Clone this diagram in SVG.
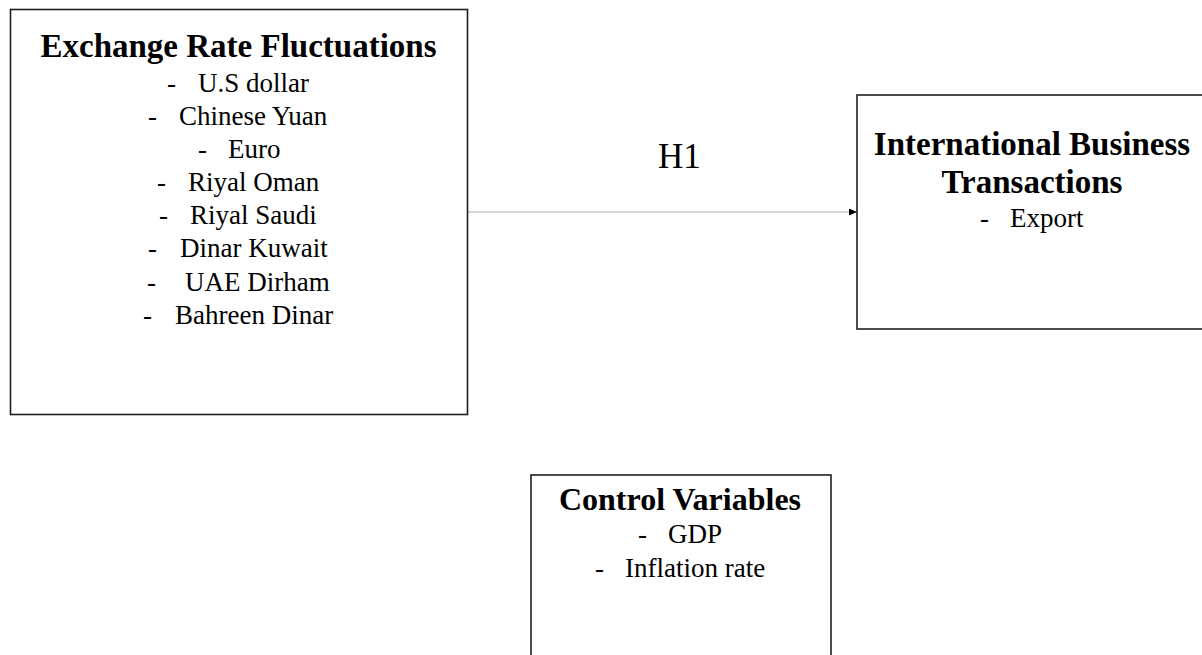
<svg xmlns="http://www.w3.org/2000/svg" width="1202" height="655" viewBox="0 0 1202 655">
<style>
.box{fill:#fff;stroke:#1e1e1e;stroke-width:1.6}
.t{font-family:"Liberation Serif","Times New Roman",serif;font-weight:bold;font-size:33px;fill:#000;text-anchor:middle}
.i{font-family:"Liberation Serif","Times New Roman",serif;font-size:27px;fill:#000}
.h{font-family:"Liberation Serif","Times New Roman",serif;font-size:35px;fill:#000}
.conn{stroke:#c8c8c8;stroke-width:1.5;fill:none}
</style>
<defs>
<marker id="arr" markerWidth="8" markerHeight="8" refX="8" refY="3.5" orient="auto" markerUnits="userSpaceOnUse">
<path d="M0,0 L8,3.5 L0,7 Z" fill="#000"/>
</marker>
</defs>
<rect width="1202" height="655" fill="#fff"/>
<g id="connectors">
<line class="conn" x1="468" y1="212" x2="857" y2="212" marker-end="url(#arr)"/>
<text class="h" x="658" y="168">H1</text>
</g>
<g id="node-exchange">
<rect class="box" x="10.5" y="9.5" width="457" height="405"/>
<text class="t" x="238.5" y="57">Exchange Rate Fluctuations</text>
<text class="i" x="167" y="92">-</text><text class="i" x="198" y="92">U.S dollar</text>
<text class="i" x="148" y="125">-</text><text class="i" x="179" y="125">Chinese Yuan</text>
<text class="i" x="198" y="158">-</text><text class="i" x="228" y="158">Euro</text>
<text class="i" x="157" y="191">-</text><text class="i" x="188" y="191">Riyal Oman</text>
<text class="i" x="159" y="224">-</text><text class="i" x="190" y="224">Riyal Saudi</text>
<text class="i" x="148" y="257">-</text><text class="i" x="180" y="257">Dinar Kuwait</text>
<text class="i" x="147" y="291">-</text><text class="i" x="185" y="291">UAE Dirham</text>
<text class="i" x="143" y="324">-</text><text class="i" x="175" y="324">Bahreen Dinar</text>
</g>
<g id="node-international">
<rect class="box" x="857" y="95" width="350" height="234"/>
<text class="t" x="1032" y="155">International Business</text>
<text class="t" x="1032" y="193">Transactions</text>
<text class="i" x="980" y="227">-</text><text class="i" x="1010" y="227">Export</text>
</g>
<g id="node-control">
<rect class="box" x="531" y="475" width="300" height="200"/>
<text class="t" x="680" y="510" style="font-size:32px">Control Variables</text>
<text class="i" x="638" y="543">-</text><text class="i" x="668" y="543">GDP</text>
<text class="i" x="595" y="577">-</text><text class="i" x="625" y="577">Inflation rate</text>
</g>
</svg>
